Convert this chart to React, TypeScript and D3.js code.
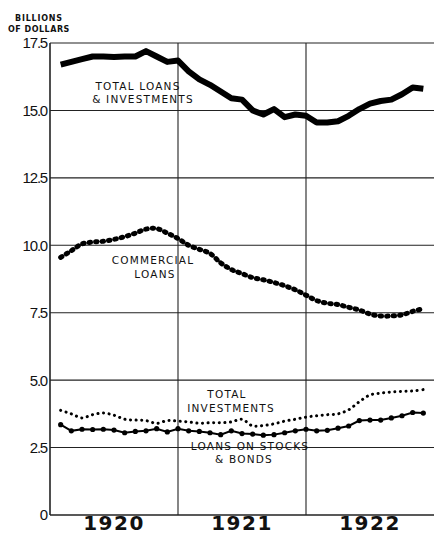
import React from 'react';
import * as d3 from 'd3';

// month index (1 = end of Jan 1920 ... 35 = end of Nov 1922)
const months = d3.range(1, 36);

const totalLoans = [
  16.7, 16.8, 16.9, 17.0, 17.0, 16.98, 17.0, 17.0, 17.2, 17.0, 16.8, 16.85,
  16.45, 16.15, 15.95, 15.7, 15.45, 15.4, 15.0, 14.85, 15.05, 14.75, 14.85, 14.8,
  14.55, 14.55, 14.6, 14.8, 15.05, 15.25, 15.35, 15.4, 15.6, 15.85, 15.8,
];

const commercialLoans = [
  9.55, 9.8, 10.05, 10.12, 10.15, 10.22, 10.32, 10.45, 10.6, 10.62, 10.45, 10.25,
  10.0, 9.85, 9.7, 9.35, 9.1, 8.95, 8.8, 8.72, 8.62, 8.5, 8.35, 8.15,
  7.95, 7.85, 7.8, 7.7, 7.6, 7.45, 7.38, 7.38, 7.42, 7.55, 7.65,
];

const totalInvestments = [
  3.88, 3.75, 3.6, 3.72, 3.78, 3.7, 3.55, 3.52, 3.5, 3.4, 3.5, 3.48,
  3.45, 3.4, 3.42, 3.42, 3.45, 3.55, 3.3, 3.32, 3.38, 3.48, 3.55, 3.63,
  3.68, 3.72, 3.75, 3.9, 4.2, 4.45, 4.52, 4.56, 4.58, 4.6, 4.65,
];

const loansOnStocks = [
  3.35, 3.12, 3.18, 3.17, 3.18, 3.15, 3.05, 3.1, 3.12, 3.2, 3.08, 3.2,
  3.12, 3.1, 3.05, 2.98, 3.12, 3.02, 3.0, 2.96, 2.98, 3.05, 3.12, 3.18,
  3.12, 3.14, 3.22, 3.3, 3.5, 3.52, 3.52, 3.6, 3.68, 3.8, 3.78,
];

const yTicks = [0, 2.5, 5, 7.5, 10, 12.5, 15, 17.5];
const yTickLabels = ['0', '2.5', '5.0', '7.5', '10.0', '12.5', '15.0', '17.5'];
const years = ['1920', '1921', '1922'];

const W = 434;
const H = 544;
const left = 50;
const right = 434;
const top = 43;
const bottom = 515;

const x = d3.scaleLinear().domain([0, 36]).range([left, right]);
const y = d3.scaleLinear().domain([0, 17.5]).range([bottom, top]);

const makeLine = (vals: number[], curve: d3.CurveFactory) =>
  d3
    .line<number>()
    .x((_, i) => x(months[i]))
    .y((d) => y(d))
    .curve(curve)(vals) || '';

const font = '"Liberation Sans", Arial, sans-serif';
const labelFont = '"DejaVu Sans", sans-serif';

export default function App() {
  return (
    <svg
      width={W}
      height={H}
      style={{ position: 'absolute', left: 0, top: 0, background: '#fff' }}
    >
      {/* grid */}
      {yTicks.map((t) => (
        <line
          key={t}
          x1={left}
          x2={right}
          y1={y(t)}
          y2={y(t)}
          stroke="#222"
          strokeWidth={t === 0 ? 1.6 : 1.1}
        />
      ))}
      {[0, 12, 24].map((m) => (
        <line
          key={m}
          x1={x(m)}
          x2={x(m)}
          y1={top}
          y2={bottom}
          stroke="#222"
          strokeWidth={m === 0 ? 1.6 : 1.1}
        />
      ))}
      {yTicks.map((t, i) => (
        <text
          key={t}
          x={left - 3}
          y={y(t)}
          dy="0.36em"
          textAnchor="end"
          fontFamily={font}
          fontSize={15}
          letterSpacing={-1.2}
          fill="#111"
        >
          {yTickLabels[i]}
        </text>
      ))}
      {years.map((yr, i) => (
        <text
          key={yr}
          x={x(i * 12 + 6)}
          y={530}
          textAnchor="middle"
          fontFamily={labelFont}
          fontWeight="bold"
          fontSize={20}
          letterSpacing={1.5}
          fill="#111"
        >
          {yr}
        </text>
      ))}
      <text x={15} y={21} fontFamily={labelFont} fontWeight="bold" fontSize={8} letterSpacing={0.8} fill="#111">
        BILLIONS
      </text>
      <text x={8} y={32} fontFamily={labelFont} fontWeight="bold" fontSize={8} letterSpacing={0.5} fill="#111">
        OF DOLLARS
      </text>

      {/* series */}
      <path
        d={makeLine(totalLoans, d3.curveLinear)}
        fill="none"
        stroke="#000"
        strokeWidth={6}
        strokeLinejoin="round"
      />
      <path
        d={makeLine(commercialLoans, d3.curveCatmullRom)}
        fill="none"
        stroke="#000"
        strokeWidth={5}
        strokeLinecap="round"
        strokeDasharray="1.5 5"
      />
      <path
        d={makeLine(totalInvestments, d3.curveCatmullRom)}
        fill="none"
        stroke="#000"
        strokeWidth={3}
        strokeLinecap="round"
        strokeDasharray="0.1 5.5"
      />
      <path
        d={makeLine(loansOnStocks, d3.curveLinear)}
        fill="none"
        stroke="#000"
        strokeWidth={2}
      />
      {loansOnStocks.map((v, i) => (
        <circle key={i} cx={x(months[i])} cy={y(v)} r={2.6} fill="#000" />
      ))}

      {/* annotations */}
      <g fontFamily={labelFont} fontSize={10.5} fill="#111" textAnchor="middle" letterSpacing={1.2}>
        <text x={138} y={90}>TOTAL LOANS</text>
        <text x={143} y={103}>&amp; INVESTMENTS</text>
        <text x={153} y={264}>COMMERCIAL</text>
        <text x={155} y={278}>LOANS</text>
        <text x={227} y={398}>TOTAL</text>
        <text x={231} y={412}>INVESTMENTS</text>
        <text x={250} y={450}>LOANS ON STOCKS</text>
        <text x={244} y={463}>&amp; BONDS</text>
      </g>
    </svg>
  );
}
